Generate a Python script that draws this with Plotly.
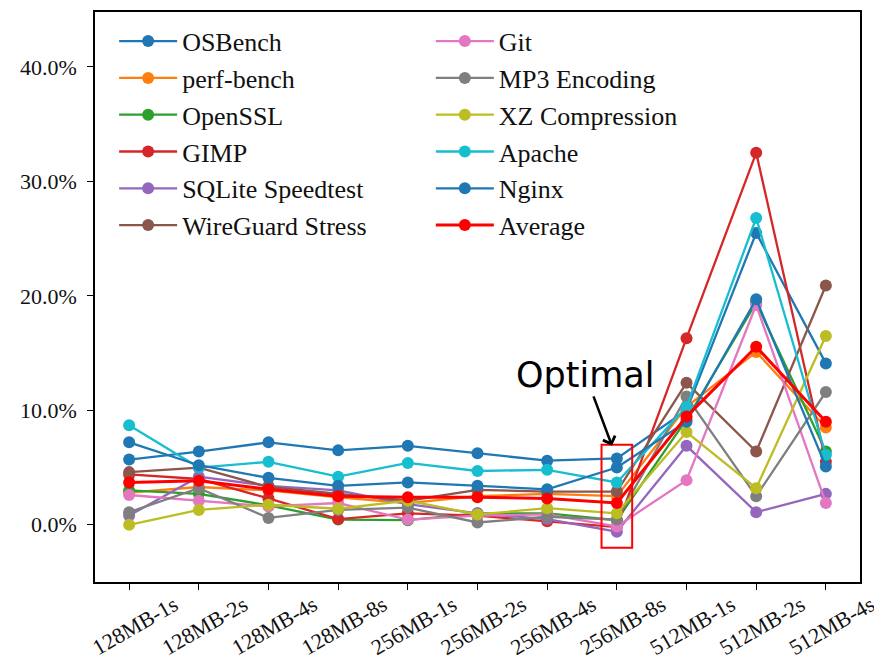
import plotly.graph_objects as go

categories = ["128MB-1s", "128MB-2s", "128MB-4s", "128MB-8s", "256MB-1s", "256MB-2s",
              "256MB-4s", "256MB-8s", "512MB-1s", "512MB-2s", "512MB-4s"]

osbench   = [5.7, 6.4, 7.2, 6.5, 6.9, 6.25, 5.6, 5.8, 10.0, 25.5, 14.1]
perfbench = [2.8, 3.3, 3.0, 2.4, 1.9, 2.5, 2.7, 2.5, 10.3, 15.1, 8.5]
openssl   = [3.0, 2.7, 1.7, 0.45, 0.4, 1.0, 1.0, 0.4, 9.2, 19.4, 6.4]
gimp      = [4.4, 4.0, 2.3, 0.5, 1.0, 0.8, 0.3, -0.2, 16.3, 32.5, 5.5]
sqlite    = [0.8, 4.2, 3.4, 3.0, 1.8, 1.0, 0.5, -0.6, 6.9, 1.1, 2.7]
wireguard = [4.6, 5.0, 3.3, 2.7, 2.1, 3.05, 2.9, 2.9, 12.4, 6.4, 20.9]
git       = [2.6, 2.1, 1.6, 1.9, 0.45, 0.8, 0.9, -0.15, 3.9, 19.2, 1.9]
mp3       = [1.1, 3.2, 0.6, 1.3, 1.5, 0.2, 0.7, 0.45, 11.2, 2.5, 11.6]
xz        = [0.0, 1.3, 1.75, 1.4, 2.1, 0.9, 1.45, 1.0, 8.1, 3.2, 16.5]
apache    = [8.7, 5.0, 5.5, 4.2, 5.4, 4.7, 4.8, 3.7, 10.3, 26.8, 6.1]
nginx     = [7.2, 5.2, 4.1, 3.4, 3.7, 3.4, 3.1, 5.0, 9.0, 19.7, 5.1]
average   = [3.7, 3.85, 3.1, 2.5, 2.4, 2.4, 2.3, 1.9, 9.45, 15.55, 9.0]

series_names = ["OSBench", "perf-bench", "OpenSSL", "GIMP", "SQLite Speedtest", "WireGuard Stress",
                "Git", "MP3 Encoding", "XZ Compression", "Apache", "Nginx", "Average"]
series_values = [osbench, perfbench, openssl, gimp, sqlite, wireguard,
                 git, mp3, xz, apache, nginx, average]
colors = ["#1f77b4", "#ff7f0e", "#2ca02c", "#d62728", "#9467bd", "#8c564b",
          "#e377c2", "#7f7f7f", "#bcbd22", "#17becf", "#1f77b4", "#ff0000"]

y_ticks = [0, 10, 20, 30, 40]

xs = list(range(len(categories)))

fig = go.Figure()
for i, (name, vals, col) in enumerate(zip(series_names, series_values, colors)):
    fig.add_trace(go.Scatter(
        x=xs, y=vals, name=name, mode="lines+markers",
        line=dict(color=col, width=3 if name == "Average" else 2.3),
        marker=dict(color=col, size=12),
        legend="legend" if i < 6 else "legend2",
        legendgroup=name,
    ))

serif = "Liberation Serif, Times New Roman, serif"

fig.add_shape(type="rect", xref="x", yref="y", x0=6.78, x1=7.22, y0=-2.0, y1=7.0,
              line=dict(color="red", width=2), fillcolor="rgba(0,0,0,0)", layer="above")

fig.add_annotation(x=6.93, y=6.9, xref="x", yref="y", axref="x", ayref="y",
                   ax=6.55, ay=13.1, text="Optimal", showarrow=True,
                   arrowhead=4, arrowsize=1, arrowwidth=2.5, arrowcolor="black",
                   font=dict(family="DejaVu Sans", size=35, color="black"))

legend_common = dict(font=dict(family=serif, size=26, color="#111"), bgcolor="rgba(0,0,0,0)",
                     borderwidth=0, itemwidth=58, traceorder="grouped", tracegroupgap=0,
                     xanchor="left", yanchor="top", itemclick=False, itemdoubleclick=False)
fig.update_layout(
    width=874, height=661,
    margin=dict(l=87, r=22, t=4, b=87),
    paper_bgcolor="white", plot_bgcolor="white",
    showlegend=True,
    legend=dict(x=0.025, y=0.99, **legend_common),
    legend2=dict(x=0.439, y=0.99, **legend_common),
    xaxis=dict(
        range=[-0.49, 10.49], tickmode="array", tickvals=xs, ticktext=categories,
        tickangle=-30, ticklabelshift=45, ticklabelstandoff=-6, automargin=False,
        ticklabeloverflow="allow",
        showgrid=False, zeroline=False,
        showline=True, linecolor="black", linewidth=1.5, mirror=True,
        ticks="outside", ticklen=6, tickwidth=1.2, tickcolor="black",
        tickfont=dict(family=serif, size=22, color="#111"),
    ),
    yaxis=dict(
        range=[-5, 44.8], tickmode="array", tickvals=y_ticks, automargin=False,
        ticktext=[f"{v:.1f}%" for v in y_ticks], showgrid=False, zeroline=False,
        ticklabelstandoff=6,
        showline=True, linecolor="black", linewidth=1.5, mirror=True,
        ticks="outside", ticklen=6, tickwidth=1.2, tickcolor="black",
        tickfont=dict(family=serif, size=22, color="#111"),
    ),
)

fig.write_html("out.html")
